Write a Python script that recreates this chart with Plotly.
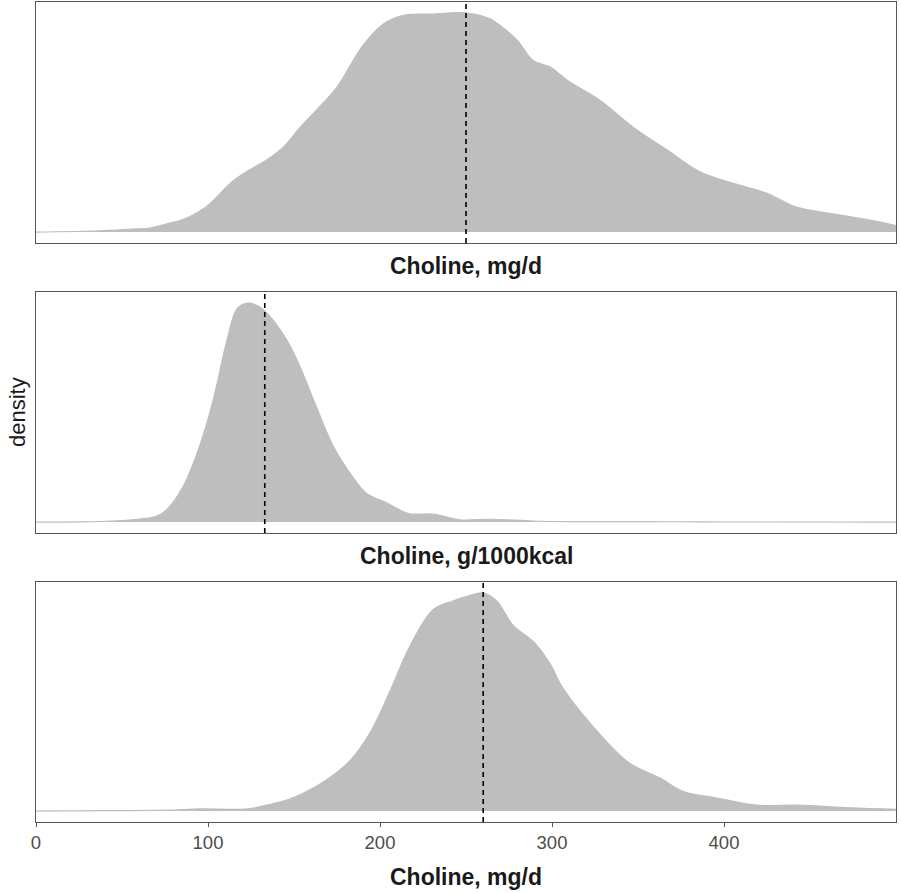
import plotly.graph_objects as go

# Daily choline intake, mg/d (upper panel)
mgd_x = [0, 37, 56, 66, 76, 85, 99, 114, 124, 134, 144, 153, 163, 175, 190, 202, 213,
         231, 250, 264, 270, 280, 289, 299, 309, 328, 347, 367, 386, 405, 425, 440, 454,
         473, 492, 500]
mgd_d = [0.0, 0.006, 0.014, 0.018, 0.038, 0.056, 0.116, 0.23, 0.283, 0.329, 0.389, 0.473,
         0.556, 0.662, 0.851, 0.95, 0.988, 0.995, 1.0, 0.973, 0.942, 0.874, 0.783, 0.753,
         0.692, 0.601, 0.48, 0.374, 0.275, 0.223, 0.177, 0.12, 0.094, 0.071, 0.044, 0.029]
mgd_mean = 250

# Energy-adjusted choline, g/1000kcal (middle panel)
kcal_x = [0.0, 0.026, 0.045, 0.056, 0.070, 0.076, 0.0855, 0.095, 0.103, 0.111, 0.117,
          0.123, 0.1285, 0.134, 0.146, 0.1535, 0.163, 0.173, 0.184, 0.192, 0.204, 0.212,
          0.217, 0.231, 0.2465, 0.264, 0.289, 0.309, 0.355, 0.386, 0.5]
kcal_d = [0.0, 0.001, 0.005, 0.01, 0.026, 0.056, 0.162, 0.344, 0.556, 0.829, 0.975,
          1.0, 0.988, 0.956, 0.829, 0.709, 0.526, 0.344, 0.208, 0.132, 0.087, 0.053,
          0.038, 0.036, 0.01, 0.013, 0.005, 0.002, 0.002, 0.0005, 0.0]
kcal_mean = 0.133

# Daily choline intake, mg/d (lower panel)
mgd2_x = [0, 37, 76, 95, 123, 134, 149, 169, 183, 194, 206, 217, 231, 242, 251, 260,
          268, 277, 290, 299, 306, 324, 345, 363, 376, 396, 419, 444, 473, 500]
mgd2_d = [0.0, 0.002, 0.004, 0.01, 0.01, 0.027, 0.06, 0.144, 0.235, 0.356, 0.553, 0.75,
          0.924, 0.962, 0.985, 1.0, 0.962, 0.855, 0.77, 0.674, 0.568, 0.386, 0.22, 0.151,
          0.091, 0.06, 0.027, 0.027, 0.015, 0.008]
mgd2_mean = 260

x_ticks = [0, 100, 200, 300, 400]
titles = ["Choline, mg/d", "Choline, g/1000kcal", "Choline, mg/d"]

FILL = "#bebebe"
FRAME = "#555555"
FONT = "Liberation Sans, Arial, sans-serif"

panels = [
    (mgd_x, mgd_d, mgd_mean, [0, 500], [0.7061, 1.0], 0.678),
    (kcal_x, kcal_d, kcal_mean, [0, 0.5], [0.3524, 0.6463], 0.3244),
    (mgd2_x, mgd2_d, mgd2_mean, [0, 500], [0.0, 0.2927], -0.067),
]

fig = go.Figure()
layout = dict(
    width=901, height=893,
    margin=dict(l=36, r=5, t=2, b=71),
    plot_bgcolor="white", paper_bgcolor="white",
    showlegend=False,
    font=dict(family=FONT, color="#1a1a1a"),
)

annotations = []
shapes = []
for i, (xs, ds, mean, xr, dom, ty) in enumerate(panels, start=1):
    xa = "x" if i == 1 else f"x{i}"
    ya = "y" if i == 1 else f"y{i}"
    fig.add_trace(go.Scatter(
        x=xs, y=ds, mode="lines", line=dict(color=FILL, width=1.2, shape="spline", smoothing=1.0),
        fill="tozeroy", fillcolor=FILL, xaxis=xa, yaxis=ya, hoverinfo="skip",
    ))
    shapes.append(dict(
        type="line", xref=xa, yref=f"{ya} domain", x0=mean, x1=mean, y0=0, y1=1,
        line=dict(color="black", width=1.6, dash="5px,4px"),
    ))
    last = i == 3
    layout[f"xaxis{'' if i == 1 else i}"] = dict(
        domain=[0, 1], range=xr, anchor=ya,
        showgrid=False, zeroline=False,
        showline=True, linecolor=FRAME, linewidth=1, mirror=True,
        showticklabels=last,
        tickvals=x_ticks if last else [],
        ticks="outside" if last else "", ticklen=4, tickcolor=FRAME,
        tickfont=dict(size=18.5, color="#4d4d4d", family=FONT),
    )
    layout[f"yaxis{'' if i == 1 else i}"] = dict(
        domain=dom, range=[-0.05, 1.05], anchor=xa,
        showgrid=False, zeroline=False,
        showline=True, linecolor=FRAME, linewidth=1, mirror=True,
        showticklabels=False, ticks="",
    )
    annotations.append(dict(
        text=f"<b>{titles[i-1]}</b>", xref="paper", yref="paper", x=0.5, y=ty,
        xanchor="center", yanchor="middle", showarrow=False,
        font=dict(size=23, color="#1a1a1a", family=FONT),
    ))

annotations.append(dict(
    text="density", xref="paper", yref="paper", x=-0.022, y=0.5, xanchor="center",
    yanchor="middle", textangle=-90, showarrow=False,
    font=dict(size=22, color="#1a1a1a", family=FONT),
))

layout["annotations"] = annotations
layout["shapes"] = shapes
fig.update_layout(**layout)
fig.write_html("out.html")
